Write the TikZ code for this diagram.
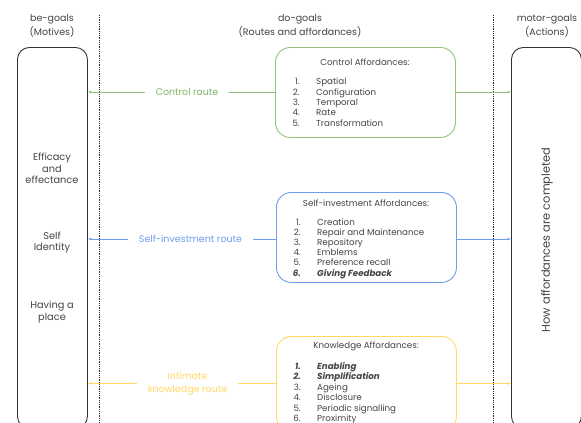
\documentclass[tikz,border=0pt]{standalone}
\usepackage{fontspec}
\setmainfont{Poppins}
\usetikzlibrary{arrows.meta}
\definecolor{cgreen}{HTML}{93C47D}
\definecolor{cgreent}{HTML}{7FB565}
\definecolor{cblue}{HTML}{6D9EEB}
\definecolor{cyellow}{HTML}{FFD966}
\definecolor{ctext}{HTML}{434343}
\definecolor{cframe}{HTML}{333333}
\begin{document}
\begin{tikzpicture}[x=1pt,y=-1pt,
  every node/.style={text=ctext, inner sep=0pt},
  listfont/.style={font=\fontsize{8.7}{10}\selectfont},
  boldlist/.style={font=\fontsize{8.7}{10}\selectfont\bfseries\itshape},
  headfont/.style={font=\fontsize{9.5}{13.5}\selectfont},
  sidefont/.style={font=\fontsize{9.8}{11.5}\selectfont},
  routefont/.style={font=\fontsize{9.5}{12.5}\selectfont},
  tallbox/.style={draw=cframe, line width=0.9pt, rounded corners=12pt, minimum width=70pt, minimum height=381pt, anchor=north west},
  affbox/.style={line width=0.9pt, rounded corners=15pt, minimum width=180pt, anchor=north west},
  divider/.style={densely dotted, line width=0.8pt, black!85},
  routelabel/.style={fill=white, inner xsep=11pt, inner ysep=2pt, align=center, routefont},
  tip/.style={-{Latex[length=3.5pt,width=3pt]}},
  num/.style={anchor=base east, listfont},
  item/.style={anchor=base west, listfont}
]
\useasboundingbox (0,0) rectangle (581,423);
\clip (0,0) rectangle (581,423);

% dividers
\coordinate (d1t) at (99,15);
\coordinate (d1b) at (99,430);
\coordinate (d2t) at (493.5,15);
\coordinate (d2b) at (493.5,430);
\draw[divider] (d1t) -- (d1b);
\draw[divider] (d2t) -- (d2b);

% headers
\node[headfont, align=center] (hbe) at (52,26) {be-goals\\(Motives)};
\node[headfont, align=center] (hdo) at (300,26) {do-goals\\(Routes and affordances)};
\node[headfont, align=center] (hmo) at (547,26) {motor-goals\\(Actions)};

% tall boxes
\node[tallbox] (be) at (17,47) {};
\node[tallbox] (mo) at (511,47) {};

% side texts
\node[sidefont, align=center] (s1) at (52,168.5) {Efficacy\\and\\effectance};
\node[sidefont, align=center] (s2) at (52,242.5) {Self\\Identity};
\node[sidefont, align=center] (s3) at (52,312) {Having a\\place};
\node[rotate=90, font=\fontsize{11.4}{13}\selectfont] (how) at (547,240) {How affordances are completed};

% affordance boxes
\node[affbox, draw=cgreen, minimum height=90pt] (cb) at (275,47) {};
\node[affbox, draw=cblue, minimum height=90pt] (sb) at (276,192) {};
\node[affbox, draw=cyellow, minimum height=95pt] (kb) at (276,336) {};

% control list
\node[listfont] (ct) at (365,62) {Control Affordances:};
\foreach \i/\t [count=\k] in {84/Spatial, 95/Configuration, 105/Temporal, 115/Rate, 126/Transformation}{
  \node[num] (cn\k) at (300,\i) {\k.};
  \node[item] (ci\k) at (316,\i) {\t};
}

% self-investment list
\node[listfont] (st) at (366,203) {Self-investment Affordances:};
\foreach \i/\t [count=\k] in {225/Creation, 235/Repair and Maintenance, 245/Repository, 255/Emblems, 265/Preference recall}{
  \node[num] (sn\k) at (301,\i) {\k.};
  \node[item] (si\k) at (317,\i) {\t};
}
\node[num, boldlist] (sn6) at (301,276) {6.};
\node[item, boldlist] (si6) at (317,276) {Giving Feedback};

% knowledge list
\node[listfont] (kt) at (366,346) {Knowledge Affordances:};
\node[num, boldlist] (kn1) at (301,369) {1.};
\node[item, boldlist] (ki1) at (317,369) {Enabling};
\node[num, boldlist] (kn2) at (301,379) {2.};
\node[item, boldlist] (ki2) at (317,379) {Simplification};
\foreach \i/\t [count=\k from 3] in {390/Ageing, 400/Disclosure, 411/Periodic signalling, 421/Proximity}{
  \node[num] (kn\k) at (301,\i) {\k.};
  \node[item] (ki\k) at (317,\i) {\t};
}

% routes
\node[routelabel, text=cgreent] (gl) at (187,92) {Control route};
\draw[cgreen, line width=0.9pt] (cb.west |- gl) -- (gl.east);
\draw[cgreen, line width=0.9pt, tip] (gl.west) -- (gl -| be.east);
\draw[cgreen, line width=0.9pt, tip] (cb.east |- gl) -- (gl -| mo.west);

\node[routelabel, text=cblue] (bl) at (190.5,239) {Self-investment route};
\draw[cblue, line width=0.9pt] (sb.west |- bl) -- (bl.east);
\draw[cblue, line width=0.9pt, tip] (bl.west) -- (bl -| be.east);
\draw[cblue, line width=0.9pt, tip] (sb.east |- bl) -- (bl -| mo.west);

\node[routelabel, text=cyellow] (yl) at (187.5,383.5) {Intimate\\knowledge route};
\draw[cyellow, line width=0.9pt] (kb.west |- yl) -- (yl.east);
\draw[cyellow, line width=0.9pt, tip] (yl.west) -- (yl -| be.east);
\draw[cyellow, line width=0.9pt, tip] (kb.east |- yl) -- (yl -| mo.west);
\end{tikzpicture}
\end{document}
